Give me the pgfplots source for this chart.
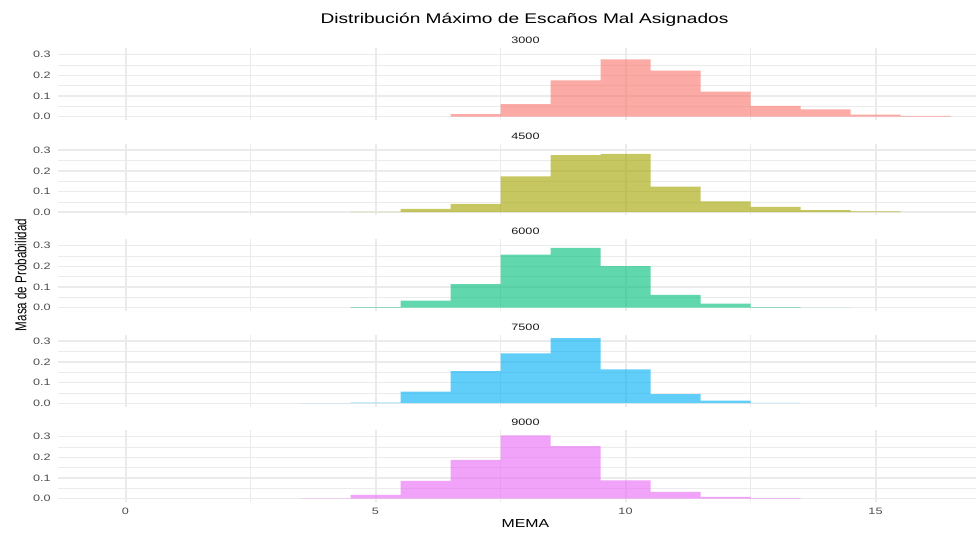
\documentclass[border=0pt]{standalone}
\usepackage{fontspec}
\setmainfont{Liberation Sans}
\usepackage{pgfplots}
\pgfplotsset{compat=1.18}

% ggplot hue palette
\definecolor{c3000}{HTML}{F8766D}
\definecolor{c4500}{HTML}{A3A500}
\definecolor{c6000}{HTML}{00BF7D}
\definecolor{c7500}{HTML}{00B0F6}
\definecolor{c9000}{HTML}{E76BF3}
\definecolor{gridc}{HTML}{EBEBEB}
\definecolor{tickc}{HTML}{4D4D4D}
\definecolor{stripc}{HTML}{1A1A1A}

\newcommand{\smallf}{\fontsize{6.95}{8}\selectfont}
\newcommand{\labf}{\fontsize{8.7}{10}\selectfont}
\newcommand{\titf}{\fontsize{10.5}{12}\selectfont}

\pgfplotsset{
  panel/.style={
    scale only axis, width=701.25pt, height=53.76pt,
    anchor=south west,
    xmin=-1.35, xmax=17.35, ymin=-0.0158, ymax=0.331,
    xtick={0,5,10,15}, minor xtick={2.5,7.5,12.5},
    ytick={0,0.1,0.2,0.3}, minor ytick={0.05,0.15,0.25},
    yticklabels={0.0,0.1,0.2,0.3},
    xticklabels={},
    grid=both,
    major x grid style={gridc, line width=1.5pt},
    major y grid style={gridc, line width=1.1pt},
    minor x grid style={gridc, line width=0.75pt},
    minor y grid style={gridc, line width=0.55pt},
    axis line style={draw=none},
    major tick length=0pt, minor tick length=0pt,
    yticklabel style={font=\smallf, text=tickc, anchor=east, inner sep=0pt, xshift=-5.25pt, xscale=1.365},
    xticklabel style={font=\smallf, text=tickc, anchor=north, inner sep=0pt, yshift=-4.3pt, xscale=1.365},
    every axis title/.style={at={(0.5,1)}, anchor=base, yshift=3.6pt, font=\smallf, text=stripc, inner sep=0pt, xscale=1.365},
  },
  bars/.style={ybar interval, fill=#1, fill opacity=0.62, draw=none},
}

\begin{document}
\begin{tikzpicture}
  \begin{axis}[panel, at={(43.5pt,309.75pt)}, title={3000}]
    \addplot[bars=c3000] coordinates {
      (6.5,0.013) (7.5,0.061) (8.5,0.176) (9.5,0.278) (10.5,0.223)
      (11.5,0.121) (12.5,0.053) (13.5,0.035) (14.5,0.010) (15.5,0.004) (16.5,0)
    };
  \end{axis}
  \begin{axis}[panel, at={(43.5pt,238.125pt)}, title={4500}]
    \addplot[bars=c4500] coordinates {
      (4.5,0.002) (5.5,0.016) (6.5,0.040) (7.5,0.174) (8.5,0.276) (9.5,0.282)
      (10.5,0.124) (11.5,0.053) (12.5,0.026) (13.5,0.010) (14.5,0.004) (15.5,0)
    };
  \end{axis}
  \begin{axis}[panel, at={(43.5pt,166.5pt)}, title={6000}]
    \addplot[bars=c6000] coordinates {
      (4.5,0.003) (5.5,0.034) (6.5,0.114) (7.5,0.257) (8.5,0.290) (9.5,0.201)
      (10.5,0.062) (11.5,0.020) (12.5,0.003) (13.5,0.001) (14.5,0)
    };
  \end{axis}
  \begin{axis}[panel, at={(43.5pt,94.875pt)}, title={7500}]
    \addplot[bars=c7500] coordinates {
      (3.5,0.001) (4.5,0.003) (5.5,0.056) (6.5,0.155) (7.5,0.241) (8.5,0.315)
      (9.5,0.164) (10.5,0.044) (11.5,0.013) (12.5,0.002) (13.5,0)
    };
  \end{axis}
  \begin{axis}[panel, at={(43.5pt,23.25pt)}, title={9000}, xticklabels={0,5,10,15}]
    \addplot[bars=c9000] coordinates {
      (3.5,0.002) (4.5,0.019) (5.5,0.086) (6.5,0.188) (7.5,0.307) (8.5,0.254)
      (9.5,0.089) (10.5,0.033) (11.5,0.009) (12.5,0.003) (13.5,0)
    };
  \end{axis}
  % titles
  \node[font=\titf, anchor=base, inner sep=0pt, xscale=1.365] at (393.4pt,382.3pt)
    {Distribución Máximo de Escaños Mal Asignados};
  \node[font=\labf, anchor=base, inner sep=0pt, xscale=1.365] at (394pt,4pt) {MEMA};
  \node[font=\labf, inner sep=0pt, xscale=1.365, rotate=90] at (15.6pt,193.5pt) {Masa de Probabilidad};
  \pgfresetboundingbox
  \path (0,0) rectangle (732pt,399.75pt);
\end{tikzpicture}
\end{document}
